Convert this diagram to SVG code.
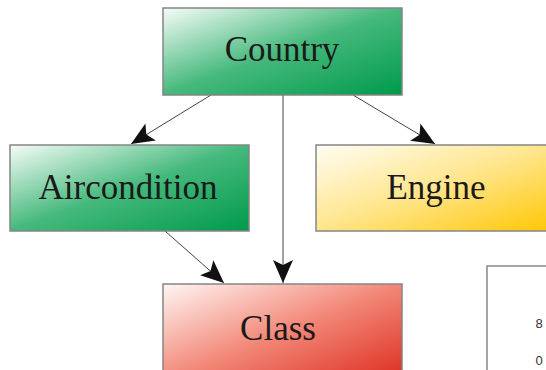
<svg xmlns="http://www.w3.org/2000/svg" width="546" height="370" viewBox="0 0 546 370">
<defs>
<linearGradient id="gGreen" x1="0" y1="0" x2="1" y2="1">
<stop offset="0" stop-color="#f6fcf8"/>
<stop offset="0.5" stop-color="#45b97c"/>
<stop offset="1" stop-color="#009a4a"/>
</linearGradient>
<linearGradient id="gYellow" x1="0" y1="0" x2="1" y2="1">
<stop offset="0" stop-color="#fffdf5"/>
<stop offset="0.5" stop-color="#ffe58a"/>
<stop offset="1" stop-color="#ffc600"/>
</linearGradient>
<linearGradient id="gRed" x1="0" y1="0" x2="1" y2="1">
<stop offset="0" stop-color="#fff6f3"/>
<stop offset="0.5" stop-color="#f28676"/>
<stop offset="1" stop-color="#dc2a1c"/>
</linearGradient>
<marker id="arr" viewBox="-24 -11 25 22" refX="0" refY="0" markerWidth="25" markerHeight="22" markerUnits="userSpaceOnUse" orient="auto">
<path d="M0,0 L-23,-10 L-18,0 L-23,10 Z" fill="#111"/>
</marker>
<style>
.box{stroke:#858585;stroke-width:1.5}
.lbl{font-family:"Liberation Serif","DejaVu Serif",serif;font-size:35px;fill:#1a1a1a;text-anchor:middle}
.edge{stroke:#444;stroke-width:1;fill:none;marker-end:url(#arr)}
.num{font-family:"Liberation Sans",Arial,sans-serif;font-size:13px;fill:#333;text-anchor:middle}
</style>
</defs>
<rect width="546" height="370" fill="#ffffff"/>
<g id="connectors">
<line class="edge" x1="211" y1="95" x2="131" y2="144"/>
<line class="edge" x1="353" y1="95" x2="435" y2="144"/>
<line class="edge" x1="283" y1="95" x2="283" y2="283"/>
<line class="edge" x1="165" y1="231" x2="224" y2="283"/>
</g>
<g id="country">
<rect class="box" x="163" y="8" width="239" height="87" fill="url(#gGreen)"/>
<text class="lbl" x="282" y="61">Country</text>
</g>
<g id="aircondition">
<rect class="box" x="10" y="145" width="239" height="86" fill="url(#gGreen)"/>
<text class="lbl" x="128" y="199">Aircondition</text>
</g>
<g id="engine">
<rect class="box" x="316" y="145" width="240" height="86" fill="url(#gYellow)"/>
<text class="lbl" x="436" y="199">Engine</text>
</g>
<g id="class">
<rect class="box" x="163" y="284" width="239" height="100" fill="url(#gRed)"/>
<text class="lbl" x="278" y="340">Class</text>
</g>
<g id="panel">
<rect x="487" y="266" width="80" height="120" fill="#ffffff" stroke="#888" stroke-width="1.5"/>
<text class="num" x="539" y="328">8</text>
<text class="num" x="539" y="365">0</text>
</g>
</svg>
